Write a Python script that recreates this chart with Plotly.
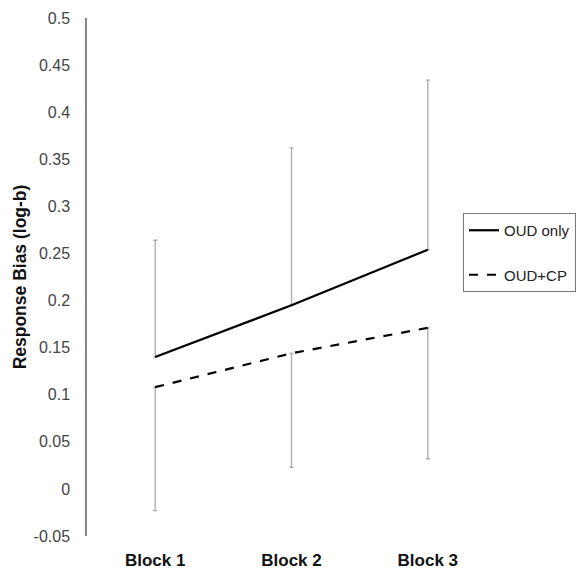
import plotly.graph_objects as go

blocks = ["Block 1", "Block 2", "Block 3"]
oud_only = [0.140, 0.195, 0.254]
oud_only_err_up = [0.124, 0.167, 0.180]
oud_cp = [0.108, 0.144, 0.171]
oud_cp_err_down = [0.131, 0.121, 0.139]
y_ticks = [-0.05, 0, 0.05, 0.1, 0.15, 0.2, 0.25, 0.3, 0.35, 0.4, 0.45, 0.5]
y_tick_labels = ["-0.05", "0", "0.05", "0.1", "0.15", "0.2", "0.25", "0.3", "0.35", "0.4", "0.45", "0.5"]

fig = go.Figure()
fig.add_trace(go.Scatter(
    x=blocks, y=oud_only, name="OUD only", mode="lines",
    line=dict(color="black", width=2.2),
    error_y=dict(type="data", symmetric=False, array=oud_only_err_up,
                 arrayminus=[0, 0, 0], color="#aaaaaa", thickness=1.3, width=2),
    legendgroup="a",
))
fig.add_trace(go.Scatter(
    x=blocks, y=oud_cp, name="OUD+CP", mode="lines",
    line=dict(color="black", width=2.2, dash="dash"),
    error_y=dict(type="data", symmetric=False, array=[0, 0, 0],
                 arrayminus=oud_cp_err_down, color="#aaaaaa", thickness=1.3, width=2),
    legendgroup="b",
))

fig.update_layout(
    width=578, height=571,
    margin=dict(l=87, r=82, t=18, b=35, autoexpand=False),
    paper_bgcolor="white", plot_bgcolor="white",
    font=dict(family="Liberation Sans, Arial, sans-serif", color="#333333"),
    showlegend=True,
    legend=dict(
        xref="container", yref="container",
        x=463 / 578, y=1 - 213 / 571, xanchor="left", yanchor="top",
        bordercolor="#777777", borderwidth=1, bgcolor="white",
        font=dict(size=15, color="#222222"),
        tracegroupgap=22, traceorder="grouped", itemwidth=30,
    ),
    xaxis=dict(
        type="category", range=[-0.5, 2.5], showline=False, showgrid=False,
        zeroline=False, ticks="", automargin=False,
        tickfont=dict(size=17, color="#111111", weight="bold"),
        ticklabelstandoff=12,
    ),
    yaxis=dict(
        range=[-0.05, 0.5], tickvals=y_ticks, ticktext=y_tick_labels,
        showline=True, linecolor="#888888", linewidth=1.5, showgrid=False,
        zeroline=False, ticks="", automargin=False, ticklabelstandoff=12,
        tickfont=dict(size=16, color="#444444"),
        title=dict(text="<b>Response Bias (log-b)</b>", font=dict(size=17.5, color="#111111"), standoff=2),
    ),
)

fig.write_html("out.html", config={"displayModeBar": False},
               post_script="document.body.style.margin='0';")
